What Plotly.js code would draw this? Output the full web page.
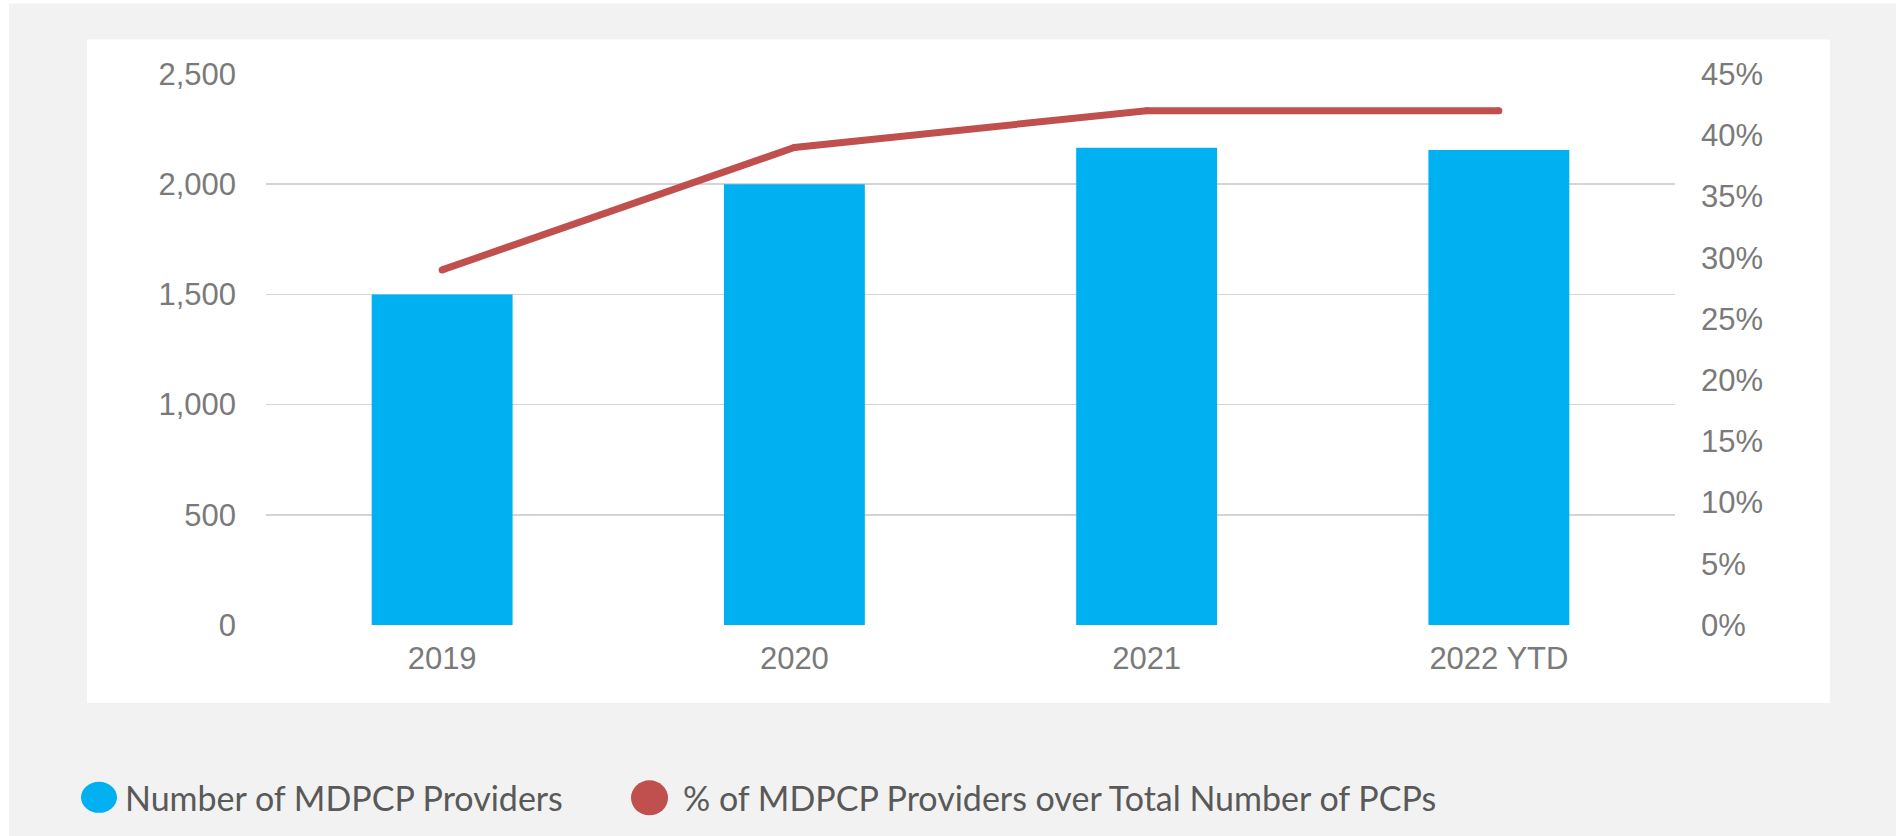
<!DOCTYPE html>
<html>
<head>
<meta charset="utf-8">
<script src="https://cdn.plot.ly/plotly-3.0.1.min.js"></script>
<style>
  html, body { margin: 0; padding: 0; background: #ffffff; }
  #chart { width: 1896px; height: 836px; }
</style>
</head>
<body>
<div id="chart"></div>
<script>
// ---- Data ----
const categories = ["2019", "2020", "2021", "2022 YTD"];
const providers = [1500, 2000, 2165, 2155];
const pctOfPCPs = [0.29, 0.39, 0.42, 0.42];
const leftTicks = [0, 500, 1000, 1500, 2000, 2500];
const leftTickLabels = ["0", "500", "1,000", "1,500", "2,000", "2,500"];
const rightTicks = [0, 0.05, 0.10, 0.15, 0.20, 0.25, 0.30, 0.35, 0.40, 0.45];
const rightTickLabels = ["0%", "5%", "10%", "15%", "20%", "25%", "30%", "35%", "40%", "45%"];
const seriesNames = ["Number of MDPCP Providers", "% of MDPCP Providers over Total Number of PCPs"];

// ---- Layout geometry (pixels) ----
const W = 1896, H = 836;
const plotL = 266, plotR = 1675, plotT = 73.5, plotB = 625;
const pw = plotR - plotL, ph = plotB - plotT;
const px = x => (x - plotL) / pw;
const py = y => (plotB - y) / ph;

const tickFont = { family: "Liberation Sans, Arial, sans-serif", size: 31, color: "#7a7a7a" };
const legendFont = { family: "Lato, Noto Sans, sans-serif", size: 34, color: "#595959" };
const blue = "#00b0f0", red = "#c0504d";

const traces = [
  {
    type: "bar", x: categories, y: providers, name: seriesNames[0],
    marker: { color: blue }, hoverinfo: "skip", yaxis: "y"
  },
  {
    type: "scatter", mode: "lines+markers", x: categories, y: pctOfPCPs, name: seriesNames[1],
    line: { color: red, width: 7 }, marker: { color: red, size: 7 },
    hoverinfo: "skip", yaxis: "y2"
  }
];

const layout = {
  width: W, height: H,
  margin: { l: plotL, r: W - plotR, t: plotT, b: H - plotB, pad: 0 },
  paper_bgcolor: "#ffffff",
  plot_bgcolor: "rgba(0,0,0,0)",
  showlegend: false,
  bargap: 0.6,
  xaxis: {
    type: "category", showgrid: false, zeroline: false, showline: false,
    ticks: "", tickfont: tickFont, ticklabelstandoff: 12, fixedrange: true
  },
  yaxis: {
    range: [0, 2500], tickvals: leftTicks, ticktext: leftTickLabels,
    showgrid: true, gridcolor: "#d4d4d4", gridwidth: 1.5,
    zeroline: false, showline: false, ticks: "",
    tickfont: tickFont, ticklabelstandoff: 29, fixedrange: true
  },
  yaxis2: {
    overlaying: "y", side: "right", range: [0, 0.45],
    tickvals: rightTicks, ticktext: rightTickLabels,
    showgrid: false, zeroline: false, showline: false, ticks: "",
    tickfont: tickFont, ticklabelstandoff: 25, fixedrange: true
  },
  shapes: [
    // grey outer background
    { type: "rect", xref: "paper", yref: "paper", layer: "below",
      x0: px(9), x1: px(W + 5), y0: py(3), y1: py(H + 5),
      fillcolor: "#f2f2f2", line: { width: 0 } },
    // white chart panel
    { type: "rect", xref: "paper", yref: "paper", layer: "below",
      x0: px(87), x1: px(1830), y0: py(39), y1: py(703),
      fillcolor: "#ffffff", line: { width: 0 } },
    // legend markers
    { type: "circle", xref: "paper", yref: "paper",
      x0: px(81), x1: px(117), y0: py(782), y1: py(813),
      fillcolor: blue, line: { width: 0 } },
    { type: "circle", xref: "paper", yref: "paper",
      x0: px(631), x1: px(668), y0: py(780.5), y1: py(815.5),
      fillcolor: red, line: { width: 0 } }
  ],
  annotations: [
    { xref: "paper", yref: "paper", x: px(123), y: py(798), xanchor: "left", yanchor: "middle",
      text: seriesNames[0], showarrow: false, font: legendFont },
    { xref: "paper", yref: "paper", x: px(681), y: py(798), xanchor: "left", yanchor: "middle",
      text: seriesNames[1], showarrow: false, font: legendFont }
  ]
};

Plotly.newPlot("chart", traces, layout, { displayModeBar: false, staticPlot: true });
</script>
</body>
</html>
